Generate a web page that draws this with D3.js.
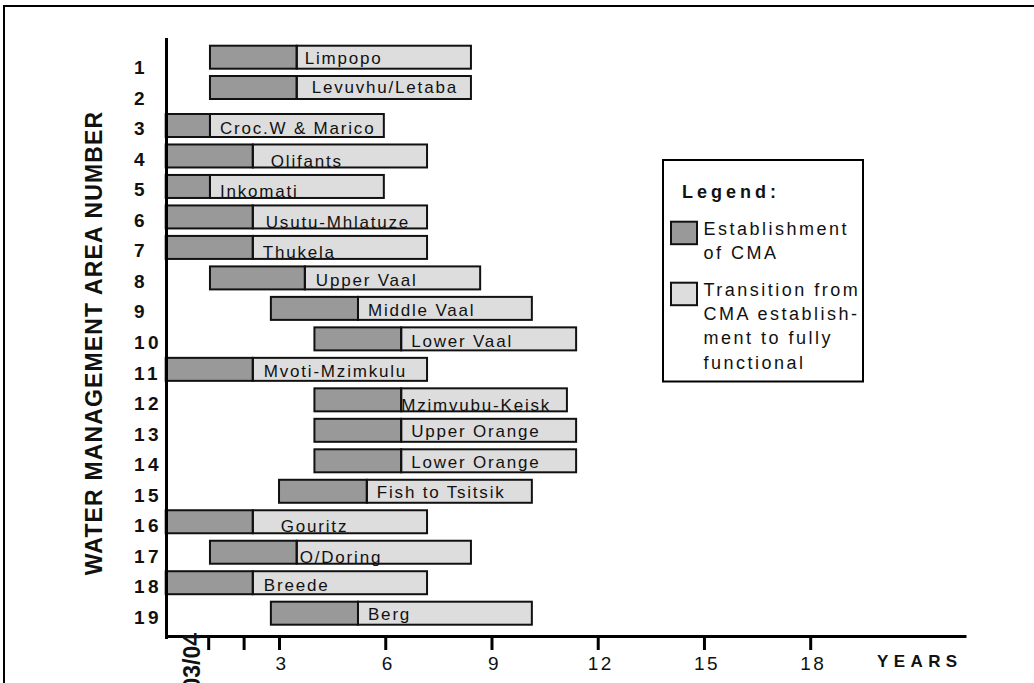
<!DOCTYPE html>
<html>
<head>
<meta charset="utf-8">
<script src="https://cdn.jsdelivr.net/npm/d3@7/dist/d3.min.js"></script>
<style>
  html, body { margin: 0; padding: 0; background: #fff; }
  svg { display: block; font-family: "Liberation Sans", Arial, Helvetica, sans-serif; }
</style>
</head>
<body>
<svg id="chart" width="1034" height="683"></svg>
<script>
// ---------------- DATA ----------------
const areaNumbers = [1,2,3,4,5,6,7,8,9,10,11,12,13,14,15,16,17,18,19];
const areaNames = ["Limpopo","Levuvhu/Letaba","Croc.W & Marico","Olifants","Inkomati",
  "Usutu-Mhlatuze","Thukela","Upper Vaal","Middle Vaal","Lower Vaal","Mvoti-Mzimkulu",
  "Mzimvubu-Keisk","Upper Orange","Lower Orange","Fish to Tsitsik","Gouritz","O/Doring",
  "Breede","Berg"];
// years (time axis); -0.2 = start of axis
const startYear = [1.05,1.05,-0.2,-0.2,-0.2,-0.2,-0.2,1.05,2.77,4.0,-0.2,4.0,4.0,4.0,3.0,-0.2,1.05,-0.2,2.77];
const establishedYear = [3.5,3.5,1.05,2.26,1.05,2.26,2.26,3.73,5.23,6.45,2.26,6.45,6.45,6.45,5.48,2.26,3.5,2.26,5.23];
const functionalYear = [8.42,8.42,5.96,7.18,5.96,7.18,7.18,8.68,10.14,11.39,7.18,11.13,11.39,11.39,10.14,7.18,8.42,7.18,10.14];
const xTickValues = [1,2,3,6,9,12,15,18];
const xTickLabels = ["","","3","6","9","12","15","18"];
const firstYearLabel = "03/04";
const firstYearValue = 0.5;
const legendItems = [
  {lines: ["Establishment","of CMA"], kind: "est"},
  {lines: ["Transition from","CMA establish-","ment to fully","functional"], kind: "trans"}
];

// ---------------- LAYOUT (label nudges, px) ----------------
const labelDx = [9,16,11,19,11,14,11,12,11,11,12,1,11,11,11,29,4,12,11];
const labelDy = [18.6,17.3,20,23,22,23,22,19.3,19,20,18.7,22.7,18.3,18.7,18.3,22,22,19.3,18.3];

// ---------------- CHART ----------------
const svg = d3.select("#chart");
const darkFill = "#999999", lightFill = "#dddddd", ink = "#111";

// frame
svg.append("line").attr("x1",4).attr("x2",1034).attr("y1",6).attr("y2",6).attr("stroke","#000").attr("stroke-width",2);
svg.append("line").attr("x1",4).attr("x2",4).attr("y1",5).attr("y2",683).attr("stroke","#000").attr("stroke-width",2);

const x = d3.scaleLinear().domain([-0.2, 22.4]).range([165.7, 966]);
const yTop = d3.scaleLinear().domain([1,2,3,19]).range([45.7,76,114,601.7]);
const barH = 23;
const yNum = d3.scaleLinear().domain([1,19]).range([67,617]);

const rows = areaNumbers.map((n,i)=>({n, name: areaNames[i], s: startYear[i], e: establishedYear[i], f: functionalYear[i], dx: labelDx[i], dy: labelDy[i]}));

// fills
const g = svg.append("g");
g.selectAll("rect.dark").data(rows).join("rect").attr("class","dark")
  .attr("x", d=>x(d.s)).attr("y", d=>yTop(d.n)).attr("width", d=>x(d.e)-x(d.s)).attr("height", barH)
  .attr("fill", darkFill);
g.selectAll("rect.light").data(rows).join("rect").attr("class","light")
  .attr("x", d=>x(d.e)).attr("y", d=>yTop(d.n)).attr("width", d=>x(d.f)-x(d.e)).attr("height", barH)
  .attr("fill", lightFill);
// labels
g.selectAll("text.bl").data(rows).join("text").attr("class","bl")
  .attr("x", d=>x(d.e)+d.dx - 1).attr("y", d=>yTop(d.n)+d.dy)
  .attr("font-size", 17).attr("letter-spacing", 1.8).attr("fill", "#111")
  .text(d=>d.name);
// borders on top
g.selectAll("rect.db").data(rows).join("rect").attr("class","db")
  .attr("x", d=>x(d.s)).attr("y", d=>yTop(d.n)).attr("width", d=>x(d.e)-x(d.s)).attr("height", barH)
  .attr("fill","none").attr("stroke", ink).attr("stroke-width", 2);
g.selectAll("rect.lb").data(rows).join("rect").attr("class","lb")
  .attr("x", d=>x(d.e)).attr("y", d=>yTop(d.n)).attr("width", d=>x(d.f)-x(d.e)).attr("height", barH)
  .attr("fill","none").attr("stroke", ink).attr("stroke-width", 2);

// row numbers
svg.selectAll("text.num").data(rows).join("text").attr("class","num")
  .attr("x", 134).attr("y", d=>yNum(d.n)+7)
  .attr("font-size", 19).attr("font-weight","bold").attr("letter-spacing", 3.5).attr("fill","#111")
  .text(d=>d.n);

// y axis line
svg.append("line").attr("x1",166.5).attr("x2",166.5).attr("y1",38).attr("y2",639)
  .attr("stroke","#000").attr("stroke-width",3);

// x axis
const xAxis = d3.axisBottom(x).tickValues(xTickValues)
  .tickFormat((d,i)=>xTickLabels[i]).tickSizeInner(14).tickSizeOuter(0).tickPadding(6);
const ax = svg.append("g").attr("transform","translate(0,636)").call(xAxis);
ax.select(".domain").attr("stroke","#000").attr("stroke-width",3);
ax.selectAll(".tick line").attr("stroke","#000").attr("stroke-width",3).attr("y1",1);
ax.selectAll(".tick text").attr("font-size",19).attr("letter-spacing",2.5)
  .attr("font-family","'Liberation Sans', Arial, sans-serif").attr("fill","#111")
  .attr("dy",null).attr("y",34).attr("dx", 2.5);

// first year label (rotated)
svg.append("text")
  .attr("transform", `translate(${x(firstYearValue)+9.5},633) rotate(-90)`)
  .attr("text-anchor","end").attr("font-size",23).attr("font-weight","bold").attr("fill","#111")
  .text(firstYearLabel);

// YEARS
svg.append("text").attr("x",877).attr("y",667).attr("font-size",17).attr("font-weight","bold")
  .attr("letter-spacing",5.4).attr("fill","#111").text("YEARS");

// y title
svg.append("text").attr("transform","translate(102,343) rotate(-90)")
  .attr("text-anchor","middle").attr("font-size",23).attr("font-weight","bold")
  .attr("letter-spacing",1.15).attr("fill","#111")
  .text("WATER MANAGEMENT AREA NUMBER");

// legend
const lg = svg.append("g");
lg.append("rect").attr("x",663).attr("y",160).attr("width",200).attr("height",221.5)
  .attr("fill","#fff").attr("stroke","#000").attr("stroke-width",2);
lg.append("text").attr("x",682).attr("y",197.7).attr("font-size",18).attr("font-weight","bold")
  .attr("letter-spacing",4).attr("fill","#111").text("Legend:");
const itemTop = [221.7, 282.7];
legendItems.forEach((it,i)=>{
  lg.append("rect").attr("x",671).attr("y",itemTop[i]).attr("width",26).attr("height",22.5)
    .attr("fill", it.kind==="est"?darkFill:lightFill).attr("stroke",ink).attr("stroke-width",2);
  it.lines.forEach((ln,j)=>{
    lg.append("text").attr("x",703.5).attr("y", itemTop[i]+13.3+j*24.2)
      .attr("font-size",18).attr("letter-spacing",2.5).attr("fill","#111").text(ln);
  });
});
</script>
</body>
</html>
